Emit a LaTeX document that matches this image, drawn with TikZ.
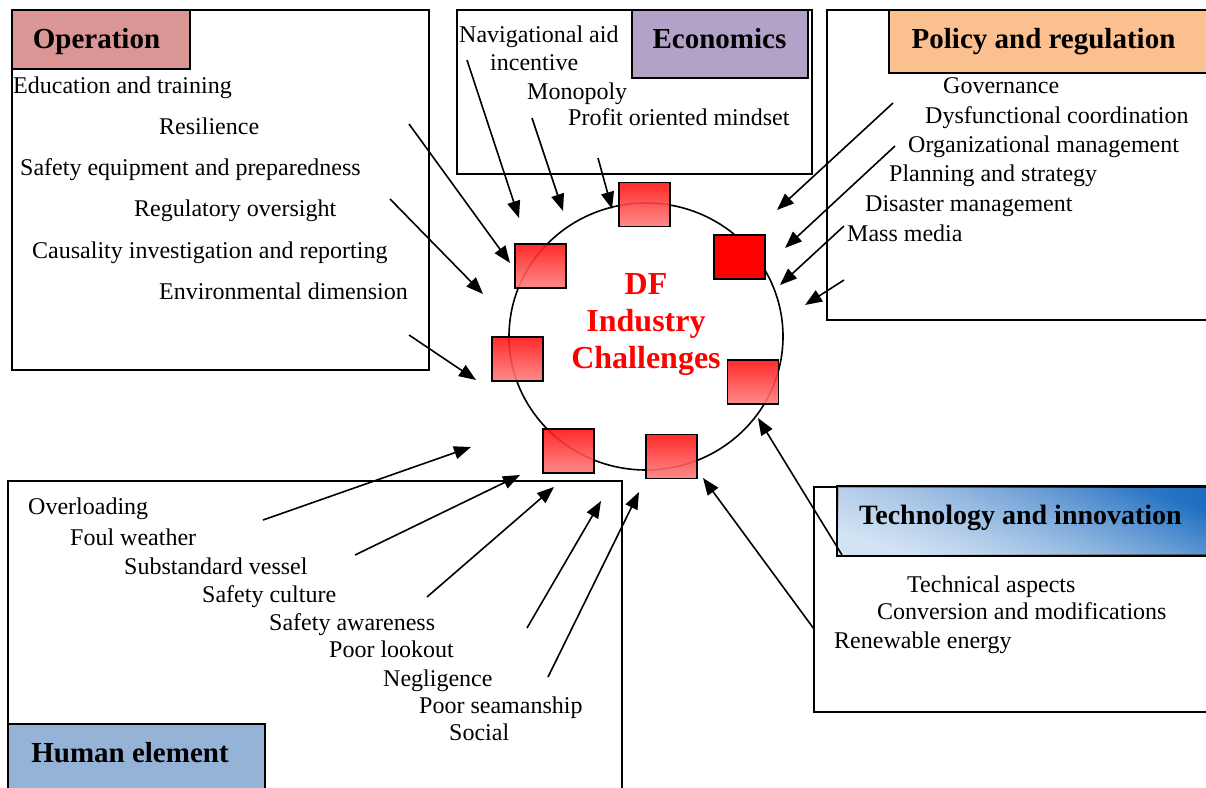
\documentclass[tikz,border=0pt]{standalone}
\usepackage{fontspec}
\setmainfont{Liberation Serif}
\usetikzlibrary{arrows.meta,shapes.geometric,fadings}

\definecolor{opfill}{HTML}{D99694}
\definecolor{ecfill}{HTML}{B2A2C7}
\definecolor{pofill}{HTML}{FAC090}
\definecolor{hufill}{HTML}{95B3D7}
\definecolor{tedark}{HTML}{1A6CC0}
\definecolor{temid}{HTML}{7EA3D6}
\definecolor{telight}{HTML}{D2E3F4}
\definecolor{sqtop}{HTML}{FF1414}
\definecolor{sqbot}{HTML}{FF7E7E}
\definecolor{dfred}{HTML}{FF0000}

\begin{document}
\begin{tikzpicture}[x=1pt,y=-1pt,
  panel/.style={draw=black, line width=1.8pt, rectangle, inner sep=0pt},
  item/.style={anchor=base west, inner sep=0pt, font=\fontsize{24}{28}\selectfont},
  title/.style={anchor=base, inner sep=0pt, font=\fontsize{29}{34}\selectfont\bfseries},
  arr/.style={line width=1.6pt, -{Triangle[length=17pt,width=13pt]}},
  sqbox/.style={draw=black, line width=1.6pt, rectangle, inner sep=0pt,
    minimum width=51pt, minimum height=44pt},
  sqshade/.style={sqbox, top color=sqtop, bottom color=sqbot, fill opacity=0.9}
]
\useasboundingbox (0,0) rectangle (1206,787);

% ---------- panels ----------
\node[panel, minimum width=417pt, minimum height=360pt] (opbox) at (220.5,190) {};
\node[panel, fill=opfill, minimum width=178pt, minimum height=59pt] (ophead) at (101,39.5) {};
\node[panel, minimum width=355pt, minimum height=164pt] (ecbox) at (634.5,92) {};
\node[panel, fill=ecfill, minimum width=176pt, minimum height=68pt] (echead) at (720,44) {};
\node[panel, minimum width=388pt, minimum height=310pt] (pobox) at (1021,165) {};
\node[panel, fill=pofill, minimum width=326pt, minimum height=63pt] (pohead) at (1052,41.5) {};
\node[panel, minimum width=401pt, minimum height=225pt] (tebox) at (1014.5,599.5) {};
\node[panel, left color=temid, right color=tedark,
      minimum width=377pt, minimum height=68pt] (tehead) at (1026.5,521) {};
% pale wash rising from the lower left corner of the header
\fill[telight, path fading=north, fading angle=-60]
  (tehead.south west) rectangle (tehead.north east);
\draw[line width=1.8pt] (tehead.south west) rectangle (tehead.north east);
\node[panel, minimum width=614pt, minimum height=314pt] (hubox) at (315,638) {};
\node[panel, fill=hufill, minimum width=257pt, minimum height=71pt] (huhead) at (136.5,759.5) {};

% ---------- panel titles ----------
\node[title] (optitle) at (96.5,48.3) {Operation};
\node[title] (ectitle) at (719.5,48.3) {Economics};
\node[title] (potitle) at (1043.5,48.3) {Policy and regulation};
\node[title, font=\fontsize{28}{33}\selectfont\bfseries] (tetitle) at (1020.5,524) {Technology and innovation};
\node[title] (hutitle) at (130,762.3) {Human element};

% ---------- central circle ----------
\node[draw=black, line width=1.6pt, ellipse, minimum width=274pt, minimum height=267pt, inner sep=0pt]
  (hub) at (646,336.5) {};
\node[align=center, inner sep=0pt, text=dfred, font=\fontsize{32}{36.7}\selectfont\bfseries]
  (hubtext) at (646,324.6) {DF\\Industry\\Challenges};

% ---------- squares round the circle ----------
\node[sqshade] (sqa) at (644.5,204.5) {};
\node[sqbox, fill=dfred] (sqb) at (739.5,257) {};
\node[sqshade] (sqc) at (540.5,266) {};
\node[sqshade] (sqd) at (517.5,359) {};
\node[sqshade] (sqe) at (753,382) {};
\node[sqshade] (sqf) at (568.5,451) {};
\node[sqshade] (sqg) at (671.5,456.5) {};

% ---------- operation items ----------
\node[item] (op1) at (13,93) {Education and training};
\node[item] (op2) at (159,134) {Resilience};
\node[item] (op3) at (20,175) {Safety equipment and preparedness};
\node[item] (op4) at (134,216) {Regulatory oversight};
\node[item] (op5) at (32,258) {Causality investigation and reporting};
\node[item] (op6) at (159,299.5) {Environmental dimension};

% ---------- economics items ----------
\node[item] (ec1) at (459,42.7) {Navigational aid};
\node[item] (ec1b) at (490,70.7) {incentive};
\node[item] (ec2) at (527,99) {Monopoly};
\node[item] (ec3) at (568,125.7) {Profit oriented mindset};

% ---------- policy items ----------
\node[item] (po1) at (943,93.3) {Governance};
\node[item] (po2) at (925,123.3) {Dysfunctional coordination};
\node[item] (po3) at (908,152.7) {Organizational management};
\node[item] (po4) at (889,181.7) {Planning and strategy};
\node[item] (po5) at (865,211.7) {Disaster management};
\node[item] (po6) at (847,241.7) {Mass media};

% ---------- technology items ----------
\node[item] (te1) at (907,592.3) {Technical aspects};
\node[item] (te2) at (877,619) {Conversion and modifications};
\node[item] (te3) at (834,648.3) {Renewable energy};

% ---------- human element items ----------
\node[item] (hu1) at (28,514) {Overloading};
\node[item] (hu2) at (70,545) {Foul weather};
\node[item] (hu3) at (124,574.3) {Substandard vessel};
\node[item] (hu4) at (202,602.7) {Safety culture};
\node[item] (hu5) at (269,630) {Safety awareness};
\node[item] (hu6) at (329,657.7) {Poor lookout};
\node[item] (hu7) at (383,686) {Negligence};
\node[item] (hu8) at (419,713.3) {Poor seamanship};
\node[item] (hu9) at (449,740.7) {Social};

% ---------- arrow end points ----------
\coordinate (oa1) at (409,124);  \coordinate (ob1) at (510,263);
\coordinate (oa2) at (390,199);  \coordinate (ob2) at (483,294);
\coordinate (oa3) at (409,335);  \coordinate (ob3) at (476,380);
\coordinate (ea1) at (467,60);   \coordinate (eb1) at (519,218);
\coordinate (ea2) at (532,118);  \coordinate (eb2) at (563,211);
\coordinate (ea3) at (598,158);  \coordinate (eb3) at (612,209);
\coordinate (pa1) at (893,103);  \coordinate (pb1) at (777,210);
\coordinate (pa2) at (895,146);  \coordinate (pb2) at (785,248);
\coordinate (pa3) at (844,226);  \coordinate (pb3) at (780,285);
\coordinate (pa4) at (844,280);  \coordinate (pb4) at (805,305);
\coordinate (ta1) at (842,555);  \coordinate (tb1) at (758,418);
\coordinate (ta2) at (814,629);  \coordinate (tb2) at (703,478);
\coordinate (ha1) at (263,520);  \coordinate (hb1) at (471,447);
\coordinate (ha2) at (355,555);  \coordinate (hb2) at (520,475);
\coordinate (ha3) at (427,597);  \coordinate (hb3) at (554,487);
\coordinate (ha4) at (527,628);  \coordinate (hb4) at (601,501);
\coordinate (ha5) at (548,677);  \coordinate (hb5) at (639,492);

% ---------- arrows ----------
\foreach \s/\t in {oa1/ob1,oa2/ob2,oa3/ob3,ea1/eb1,ea2/eb2,ea3/eb3,
                   pa1/pb1,pa2/pb2,pa3/pb3,pa4/pb4,ta1/tb1,ta2/tb2,
                   ha1/hb1,ha2/hb2,ha3/hb3,ha4/hb4,ha5/hb5}
  \draw[arr] (\s) -- (\t);
\end{tikzpicture}
\end{document}
